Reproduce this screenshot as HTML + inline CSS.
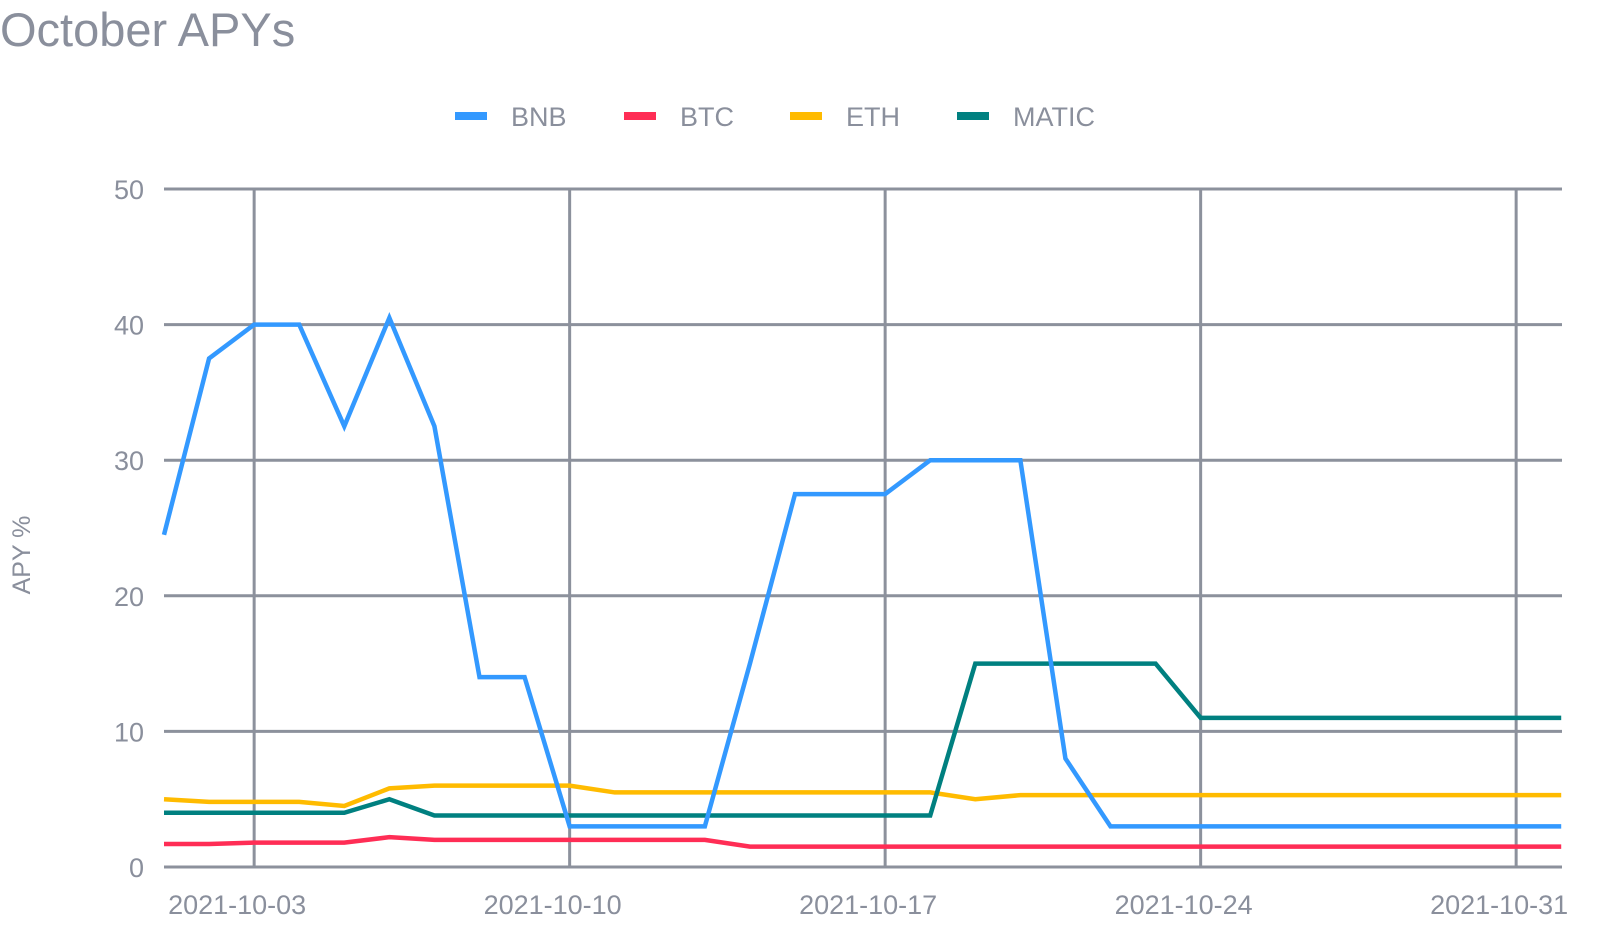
<!DOCTYPE html>
<html><head><meta charset="utf-8"><style>
body{margin:0;background:#fff;width:1600px;height:942px;overflow:hidden;font-family:"Liberation Sans",sans-serif;}
</style></head><body>
<svg id="chart" width="1600" height="942" xmlns="http://www.w3.org/2000/svg">
<text x="0" y="46" font-size="47" fill="#8a8f9c">October APYs</text>
<text transform="translate(30,555) rotate(-90)" text-anchor="middle" font-size="25" fill="#8a8f9c">APY %</text>
<g id="grid"></g><g id="series"></g><g id="legend"></g>
</svg>
<script>
const yTicks=[0,10,20,30,40,50];
const xTickLabels=['2021-10-03','2021-10-10','2021-10-17','2021-10-24','2021-10-31'];
const xTickDays=[2,9,16,23,30];
const seriesNames=['BNB','BTC','ETH','MATIC'];
const bnb=[24.5,37.5,40,40,32.5,40.5,32.5,14,14,3,3,3,3,15,27.5,27.5,27.5,30,30,30,8,3,3,3,3,3,3,3,3,3,3,3];
const btc=[1.7,1.7,1.8,1.8,1.8,2.2,2.0,2.0,2.0,2.0,2.0,2.0,2.0,1.5,1.5,1.5,1.5,1.5,1.5,1.5,1.5,1.5,1.5,1.5,1.5,1.5,1.5,1.5,1.5,1.5,1.5,1.5];
const eth=[5,4.8,4.8,4.8,4.5,5.8,6,6,6,6,5.5,5.5,5.5,5.5,5.5,5.5,5.5,5.5,5.0,5.3,5.3,5.3,5.3,5.3,5.3,5.3,5.3,5.3,5.3,5.3,5.3,5.3];
const matic=[4,4,4,4,4,5,3.8,3.8,3.8,3.8,3.8,3.8,3.8,3.8,3.8,3.8,3.8,3.8,15,15,15,15,15,11,11,11,11,11,11,11,11,11];
const colors=['#3399ff','#ff2d55','#ffbb00','#008080'];
const NS='http://www.w3.org/2000/svg';
const x=d=>164+d*(1518-256)/28;
const y=v=>867-v*(867-189)/50;
function mk(tag,attrs,parent){const e=document.createElementNS(NS,tag);for(const k in attrs)e.setAttribute(k,attrs[k]);parent.appendChild(e);return e;}
const grid=document.getElementById('grid');
yTicks.forEach(t=>{
 const l=mk('line',{x1:164,x2:1562,y1:y(t),y2:y(t),stroke:'#8c919c','stroke-width':3},grid);
 
 
 const tx=mk('text',{x:144,y:y(t)+10,'text-anchor':'end','font-size':27,fill:'#8a8f9c'},grid);
 tx.textContent=t;
 
 
});
xTickDays.forEach((d,i)=>{
 const l=mk('line',{x1:x(d),x2:x(d),y1:189,y2:867,stroke:'#8c919c','stroke-width':3},grid);
 
 
 const tx=mk('text',{x:x(d)-17,y:914,'text-anchor':'middle','font-size':27,fill:'#8a8f9c'},grid);
 tx.textContent=xTickLabels[i];
 
 
});
const data=[bnb,btc,eth,matic];
const order=[2,1,3,0];
const sg=document.getElementById('series');
order.forEach(i=>{
 const pts=data[i].map((v,d)=>x(d)+','+y(v)).join(' ');
 const p=mk('polyline',{points:pts,fill:'none',stroke:colors[i],'stroke-width':4.5,'stroke-linejoin':'miter'},sg);
 
 
});
const lg=document.getElementById('legend');
const lx=[455,624,790,957];
seriesNames.forEach((n,i)=>{
 const g=mk('g',{},lg);
 
 
 mk('rect',{x:lx[i],y:112,width:32,height:8,fill:colors[i]},g);
 const t=mk('text',{x:lx[i]+56,y:126,'font-size':27,fill:'#8a8f9c'},g);
 t.textContent=n;
});
</script>
</body></html>
